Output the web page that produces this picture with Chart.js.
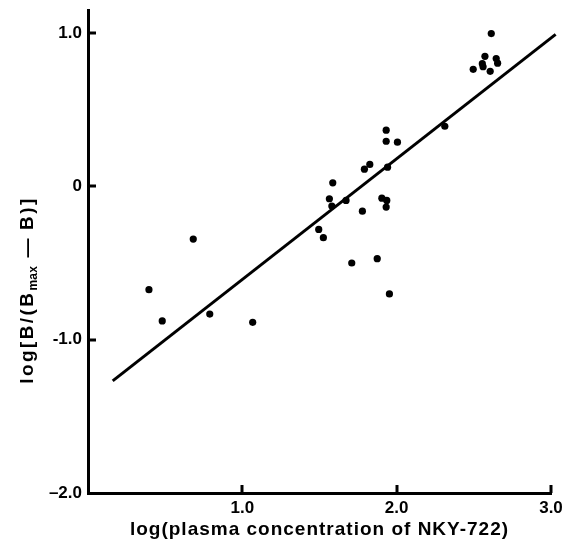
<!DOCTYPE html>
<html>
<head>
<meta charset="utf-8">
<script src="https://cdn.jsdelivr.net/npm/chart.js@4.4.1/dist/chart.umd.min.js"></script>
<style>
  html, body { margin: 0; padding: 0; background: #fff; }
  #wrap { width: 572px; height: 544px; }
</style>
</head>
<body>
<div id="wrap"><canvas id="myChart" width="572" height="544"></canvas></div>
<script>
// measured points: log(plasma concentration) vs log[B/(Bmax-B)]
const concX = [0.395, 0.481, 0.682, 0.789, 1.067, 1.495, 1.525, 1.564, 1.580, 1.586,
  1.672, 1.709, 1.778, 1.791, 1.826, 1.874, 1.904, 1.932, 1.932, 1.932,
  1.936, 1.941, 1.953, 2.005, 2.312, 2.496, 2.555, 2.560, 2.572, 2.606,
  2.613, 2.645, 2.654]
const bindY = [-0.674, -0.878, -0.344, -0.833, -0.887, -0.281, -0.335, -0.081, -0.129, 0.023,
  -0.092, -0.500, -0.162, 0.112, 0.143, -0.472, -0.077, 0.366, 0.294, -0.135,
  -0.092, 0.125, -0.702, 0.288, 0.392, 0.763, 0.800, 0.780, 0.848, 0.750,
  0.996, 0.833, 0.803]

// regression line end points
const fitX = [0.16, 3.03]
const fitY = [-1.269, 0.991]

const xTicks = [1, 2, 3]
const xTickLabels = ['1.0', '2.0', '3.0']
const yTicks = [-2, -1, 0, 1]
const yTickLabels = ['\u20132.0', '-1.0', '0', '1.0']

const xTitle = 'log(plasma concentration of NKY-722)'
const yTitleParts = ['log[B/(B', 'max', '\u2009\u2014\u2009B)]']

const fontFam = '"Liberation Sans", Arial, Helvetica, sans-serif'

const axisDecor = {
  id: 'axisDecor',
  afterDraw(chart) {
    const ctx = chart.ctx
    const x = chart.scales.x
    const y = chart.scales.y
    const area = chart.chartArea
    ctx.save()
    ctx.strokeStyle = '#000'
    ctx.lineWidth = 3
    // inward tick marks
    xTicks.forEach(v => {
      const px = Math.round(x.getPixelForValue(v))
      ctx.beginPath()
      ctx.moveTo(px, area.bottom)
      ctx.lineTo(px, area.bottom - 8)
      ctx.stroke()
    })
    yTicks.filter(v => v > -2).forEach(v => {
      const py = Math.round(y.getPixelForValue(v))
      ctx.beginPath()
      ctx.moveTo(area.left, py)
      ctx.lineTo(area.left + 8, py)
      ctx.stroke()
    })

    ctx.fillStyle = '#000'
    ctx.letterSpacing = '1px'
    // x title
    ctx.font = 'bold 19px ' + fontFam
    ctx.textAlign = 'center'
    ctx.textBaseline = 'alphabetic'
    ctx.fillText(xTitle, (area.left + area.right) / 2, 535)

    // y title with subscript
    const big = 'bold 19px ' + fontFam
    const small = 'bold 12px ' + fontFam
    ctx.letterSpacing = '2.4px'
    ctx.font = big
    const w1 = ctx.measureText(yTitleParts[0]).width
    const w3 = ctx.measureText(yTitleParts[2]).width
    ctx.letterSpacing = '0.3px'
    ctx.font = small
    const w2 = ctx.measureText(yTitleParts[1]).width + 2
    const total = w1 + w2 + w3
    ctx.translate(33, 290)
    ctx.rotate(-Math.PI / 2)
    ctx.textAlign = 'left'
    let cx = -total / 2
    ctx.letterSpacing = '2.4px'
    ctx.font = big
    ctx.fillText(yTitleParts[0], cx, 0)
    cx += w1
    ctx.letterSpacing = '0.3px'
    ctx.font = small
    ctx.fillText(yTitleParts[1], cx, 4)
    cx += w2
    ctx.letterSpacing = '2.4px'
    ctx.font = big
    ctx.fillText(yTitleParts[2], cx, 0)
    ctx.restore()
  }
}

function drawNKYChart() {
  const ctx = document.getElementById('myChart')
  const points = concX.map((v, i) => ({ x: v, y: bindY[i] }))
  const fitLine = fitX.map((v, i) => ({ x: v, y: fitY[i] }))

  new Chart(ctx, {
    type: 'scatter',
    data: {
      datasets: [{
        data: points,
        backgroundColor: '#000',
        borderColor: '#000',
        pointRadius: 3.6,
        pointHoverRadius: 3.6,
        borderWidth: 0
      }, {
        type: 'line',
        data: fitLine,
        borderColor: '#000',
        borderWidth: 3,
        pointRadius: 0,
        fill: false,
        clip: false
      }]
    },
    options: {
      responsive: false,
      animation: false,
      devicePixelRatio: 1,
      layout: { padding: { top: 10, right: 21, left: 0, bottom: 0 } },
      plugins: {
        legend: { display: false },
        tooltip: { enabled: false }
      },
      scales: {
        x: {
          type: 'linear',
          min: 0,
          max: 3,
          afterFit: s => { s.height = 51; s.paddingLeft = 0; s.paddingRight = 0 },
          afterBuildTicks: s => { s.ticks = xTicks.map(v => ({ value: v })) },
          grid: { display: false, drawTicks: false },
          border: { display: true, color: '#000', width: 3 },
          ticks: {
            color: '#000',
            padding: 5,
            maxRotation: 0,
            font: { family: fontFam, weight: 'bold', size: 17 },
            callback: v => xTickLabels[xTicks.indexOf(v)]
          }
        },
        y: {
          type: 'linear',
          min: -2,
          max: 1.15,
          afterFit: s => { s.width = 88; s.paddingTop = 0; s.paddingBottom = 0 },
          afterBuildTicks: s => { s.ticks = yTicks.map(v => ({ value: v })) },
          grid: { display: false, drawTicks: false },
          border: { display: true, color: '#000', width: 3 },
          ticks: {
            color: '#000',
            padding: 6,
            font: { family: fontFam, weight: 'bold', size: 17 },
            callback: v => yTickLabels[yTicks.indexOf(v)]
          }
        }
      }
    },
    plugins: [axisDecor]
  })
}

drawNKYChart()
</script>
</body>
</html>
